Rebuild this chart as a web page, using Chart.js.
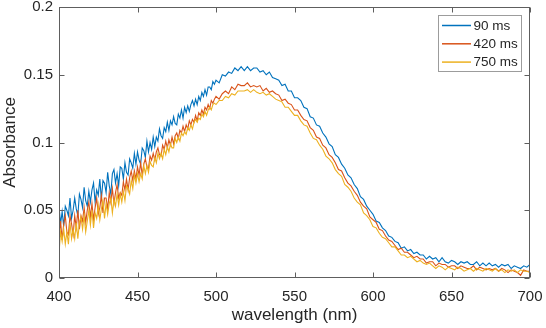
<!DOCTYPE html>
<html>
<head>
<meta charset="utf-8">
<script src="https://cdn.jsdelivr.net/npm/chart.js@4/dist/chart.umd.min.js"></script>
<style>
  html, body { margin: 0; padding: 0; background: #ffffff; }
  #wrap { width: 546px; height: 328px; }
</style>
</head>
<body>
<div id="wrap"><canvas id="c" width="546" height="328"></canvas></div>
<script>
// ---------------- data ----------------
// 1 nm steps from 400 to 500, 2 nm steps from 502 to 700
const wavelengths = [
  400,401,402,403,404,405,406,407,408,409,
  410,411,412,413,414,415,416,417,418,419,
  420,421,422,423,424,425,426,427,428,429,
  430,431,432,433,434,435,436,437,438,439,
  440,441,442,443,444,445,446,447,448,449,
  450,451,452,453,454,455,456,457,458,459,
  460,461,462,463,464,465,466,467,468,469,
  470,471,472,473,474,475,476,477,478,479,
  480,481,482,483,484,485,486,487,488,489,
  490,491,492,493,494,495,496,497,498,499,
  500,
  502,504,506,508,510,512,514,516,518,
  520,522,524,526,528,530,532,534,536,538,
  540,542,544,546,548,550,552,554,556,558,
  560,562,564,566,568,570,572,574,576,578,
  580,582,584,586,588,590,592,594,596,598,
  600,602,604,606,608,610,612,614,616,618,
  620,622,624,626,628,630,632,634,636,638,
  640,642,644,646,648,650,652,654,656,658,
  660,662,664,666,668,670,672,674,676,678,
  680,682,684,686,688,690,692,694,696,698,
  700
];

const abs90 = [
  0.053,0.040,0.049,0.038,0.053,0.050,0.046,0.059,0.044,0.050,
  0.059,0.051,0.046,0.062,0.058,0.052,0.067,0.057,0.053,0.064,
  0.056,0.065,0.070,0.056,0.065,0.061,0.073,0.058,0.072,0.070,
  0.063,0.078,0.068,0.062,0.077,0.080,0.070,0.077,0.068,0.082,
  0.081,0.073,0.085,0.078,0.076,0.088,0.085,0.081,0.092,0.084,
  0.093,0.087,0.084,0.096,0.094,0.089,0.101,0.093,0.100,0.095,
  0.104,0.097,0.104,0.101,0.110,0.105,0.103,0.111,0.108,0.115,
  0.109,0.116,0.113,0.119,0.114,0.113,0.121,0.118,0.124,0.118,
  0.126,0.122,0.127,0.123,0.128,0.131,0.127,0.132,0.128,0.134,
  0.131,0.137,0.134,0.139,0.135,0.141,0.141,0.139,0.145,0.143,
  0.146,
  0.144,0.150,0.149,0.152,0.151,0.155,0.153,0.156,0.153,
  0.156,0.153,0.155,0.155,0.152,0.153,0.150,0.152,0.148,0.147,
  0.146,0.142,0.143,0.138,0.138,0.133,0.133,0.131,0.126,0.125,
  0.119,0.118,0.113,0.112,0.107,0.104,0.099,0.097,0.091,0.089,
  0.084,0.081,0.076,0.074,0.069,0.066,0.060,0.058,0.053,0.050,
  0.047,0.042,0.041,0.037,0.035,0.031,0.030,0.027,0.026,0.022,
  0.023,0.020,0.021,0.018,0.019,0.017,0.017,0.014,0.016,0.014,
  0.015,0.012,0.015,0.012,0.011,0.013,0.012,0.010,0.012,0.011,
  0.012,0.010,0.010,0.012,0.009,0.011,0.009,0.011,0.009,0.010,
  0.008,0.010,0.009,0.010,0.007,0.009,0.008,0.007,0.009,0.008,
  0.010
];

const abs420 = [
  0.030,0.042,0.028,0.040,0.046,0.034,0.032,0.046,0.040,0.032,
  0.046,0.037,0.050,0.036,0.046,0.042,0.052,0.041,0.050,0.056,
  0.045,0.055,0.043,0.052,0.059,0.047,0.052,0.061,0.048,0.059,
  0.059,0.051,0.063,0.056,0.066,0.055,0.063,0.069,0.059,0.063,
  0.061,0.071,0.065,0.073,0.065,0.074,0.079,0.072,0.079,0.073,
  0.082,0.076,0.085,0.076,0.084,0.088,0.082,0.081,0.090,0.087,
  0.092,0.087,0.093,0.096,0.091,0.090,0.098,0.095,0.101,0.096,
  0.102,0.098,0.104,0.099,0.105,0.107,0.103,0.109,0.107,0.112,
  0.108,0.113,0.110,0.116,0.113,0.117,0.115,0.120,0.116,0.122,
  0.120,0.124,0.121,0.126,0.124,0.128,0.125,0.131,0.129,0.132,
  0.134,
  0.132,0.136,0.138,0.136,0.141,0.139,0.143,0.142,0.142,
  0.144,0.141,0.142,0.141,0.142,0.138,0.140,0.137,0.138,0.136,
  0.135,0.131,0.132,0.129,0.128,0.124,0.124,0.120,0.117,0.116,
  0.111,0.109,0.104,0.103,0.098,0.096,0.091,0.089,0.085,0.080,
  0.079,0.074,0.070,0.068,0.064,0.061,0.056,0.053,0.051,0.045,
  0.043,0.041,0.036,0.035,0.031,0.028,0.027,0.024,0.021,0.022,
  0.019,0.019,0.017,0.015,0.016,0.014,0.014,0.011,0.012,0.012,
  0.009,0.011,0.010,0.010,0.008,0.009,0.009,0.007,0.009,0.008,
  0.007,0.007,0.009,0.006,0.008,0.007,0.006,0.007,0.006,0.007,
  0.005,0.007,0.006,0.004,0.006,0.005,0.004,0.002,0.006,0.005,
  0.005
];

const abs750 = [
  0.018,0.034,0.027,0.036,0.025,0.034,0.025,0.041,0.029,0.036,
  0.029,0.041,0.029,0.041,0.045,0.036,0.046,0.034,0.042,0.050,
  0.039,0.050,0.037,0.048,0.044,0.054,0.043,0.051,0.057,0.044,
  0.055,0.047,0.055,0.059,0.048,0.058,0.053,0.062,0.054,0.062,
  0.056,0.064,0.057,0.068,0.066,0.062,0.072,0.066,0.076,0.070,
  0.077,0.071,0.077,0.073,0.083,0.077,0.083,0.078,0.086,0.083,
  0.082,0.089,0.085,0.092,0.088,0.092,0.088,0.095,0.091,0.097,
  0.093,0.099,0.096,0.096,0.103,0.100,0.104,0.101,0.107,0.105,
  0.108,0.106,0.111,0.109,0.113,0.110,0.115,0.117,0.115,0.118,
  0.117,0.121,0.119,0.123,0.120,0.124,0.126,0.124,0.128,0.129,
  0.128,
  0.131,0.131,0.134,0.133,0.136,0.135,0.138,0.138,0.138,
  0.139,0.137,0.139,0.137,0.136,0.137,0.135,0.136,0.134,0.132,
  0.131,0.130,0.126,0.126,0.123,0.120,0.120,0.116,0.113,0.112,
  0.107,0.103,0.102,0.098,0.095,0.090,0.088,0.085,0.080,0.077,
  0.075,0.069,0.067,0.064,0.059,0.056,0.054,0.048,0.046,0.043,
  0.038,0.037,0.033,0.030,0.029,0.026,0.023,0.023,0.020,0.017,
  0.017,0.015,0.016,0.014,0.012,0.013,0.011,0.010,0.011,0.009,
  0.007,0.009,0.008,0.006,0.008,0.007,0.006,0.008,0.007,0.005,
  0.006,0.007,0.005,0.007,0.006,0.005,0.007,0.006,0.005,0.007,
  0.005,0.006,0.004,0.006,0.005,0.006,0.004,0.006,0.005,0.005,
  0.004
];

const seriesLabels = ['90 ms', '420 ms', '750 ms'];
const xTicks = [400, 450, 500, 550, 600, 650, 700];
const xTickLabels = ['400', '450', '500', '550', '600', '650', '700'];
const yTicks = [0, 0.05, 0.1, 0.15, 0.2];
const yTickLabels = ['0', '0.05', '0.1', '0.15', '0.2'];
const xTitle = 'wavelength (nm)';
const yTitle = 'Absorbance';

// ---------------- style ----------------
const FONT = "'Liberation Sans', Arial, Helvetica, sans-serif";
const textColor = '#262626';
const axisColor = '#5e5e5e';
const colors = ['#0072BD', '#D95319', '#EDB120'];

Chart.defaults.font.family = FONT;
Chart.defaults.color = textColor;

const seriesValues = [abs90, abs420, abs750];
const toPoints = vals => wavelengths.map((w, i) => ({ x: w, y: vals[i] }));

const datasets = seriesValues.map((vals, i) => ({
  label: seriesLabels[i],
  data: toPoints(vals),
  borderColor: colors[i],
  backgroundColor: colors[i],
  borderWidth: 1.1,
  pointRadius: 0,
  tension: 0,
  fill: false,
  order: seriesValues.length - i   // later series drawn on top
}));

const framePlugin = {
  id: 'frame',
  afterDatasetsDraw(chart) {
    const { ctx, chartArea: a, scales } = chart;
    const xs = scales.x, ys = scales.y;
    const L = Math.round(a.left) + 0.5;
    const R = Math.round(a.right) - 0.5;
    const T = Math.round(a.top) + 0.5;
    const B = Math.round(a.bottom) - 0.5;
    const tl = 5;
    ctx.save();
    ctx.strokeStyle = axisColor;
    ctx.lineWidth = 1;
    ctx.strokeRect(L, T, R - L, B - T);
    ctx.beginPath();
    xTicks.forEach(v => {
      const p = Math.round(xs.getPixelForValue(v)) + 0.5;
      ctx.moveTo(p, B); ctx.lineTo(p, B - tl);
      ctx.moveTo(p, T); ctx.lineTo(p, T + tl);
    });
    yTicks.forEach(v => {
      const p = Math.round(ys.getPixelForValue(v)) + 0.5;
      ctx.moveTo(L, p); ctx.lineTo(L + tl, p);
      ctx.moveTo(R, p); ctx.lineTo(R - tl, p);
    });
    ctx.stroke();

    // legend (top-right inside axes)
    const bx = 438.5, by = 15.5, bw = 83, bh = 56;
    ctx.fillStyle = '#ffffff';
    ctx.fillRect(bx, by, bw, bh);
    ctx.strokeStyle = '#9c9c9c';
    ctx.strokeRect(bx, by, bw, bh);
    ctx.font = '13.5px ' + FONT;
    ctx.textBaseline = 'middle';
    ctx.textAlign = 'left';
    chart.data.datasets.forEach((ds, i) => {
      const yy = 25.5 + i * 18.3;
      ctx.strokeStyle = ds.borderColor;
      ctx.lineWidth = 1.5;
      ctx.beginPath();
      ctx.moveTo(442, yy); ctx.lineTo(471, yy);
      ctx.stroke();
      ctx.fillStyle = textColor;
      ctx.fillText(ds.label, 473.5, yy + 0.5);
    });
    ctx.restore();
  }
};

new Chart(document.getElementById('c'), {
  type: 'line',
  data: { datasets },
  options: {
    responsive: false,
    animation: false,
    devicePixelRatio: 1,
    layout: { padding: { left: 0, top: 7, right: 16, bottom: 0 } },
    plugins: { legend: { display: false }, tooltip: { enabled: false } },
    scales: {
      x: {
        type: 'linear',
        min: 400, max: 700,
        afterBuildTicks: s => { s.ticks = xTicks.map(v => ({ value: v })); },
        afterFit: s => { s.height = 50; s.paddingLeft = 0; s.paddingRight = 0; },
        grid: { display: false, drawTicks: false, tickLength: 0 },
        border: { display: false },
        ticks: {
          autoSkip: false, maxRotation: 0, padding: 10,
          font: { size: 15 }, color: textColor,
          callback: (v) => { const i = xTicks.indexOf(v); return i >= 0 ? xTickLabels[i] : ''; }
        },
        title: { display: true, text: xTitle, font: { size: 17 }, color: textColor, padding: { top: 0, bottom: 2 } }
      },
      y: {
        type: 'linear',
        min: 0, max: 0.2,
        afterBuildTicks: s => { s.ticks = yTicks.map(v => ({ value: v })); },
        afterFit: s => { s.width = 59; s.paddingTop = 0; s.paddingBottom = 0; },
        grid: { display: false, drawTicks: false, tickLength: 0 },
        border: { display: false },
        ticks: {
          autoSkip: false, padding: 6,
          font: { size: 15 }, color: textColor,
          callback: (v) => { const i = yTicks.findIndex(t => Math.abs(t - v) < 1e-9); return i >= 0 ? yTickLabels[i] : ''; }
        },
        title: { display: true, text: yTitle, font: { size: 17 }, color: textColor, padding: { top: 0, bottom: 0 } }
      }
    }
  },
  plugins: [framePlugin]
});
</script>
</body>
</html>
